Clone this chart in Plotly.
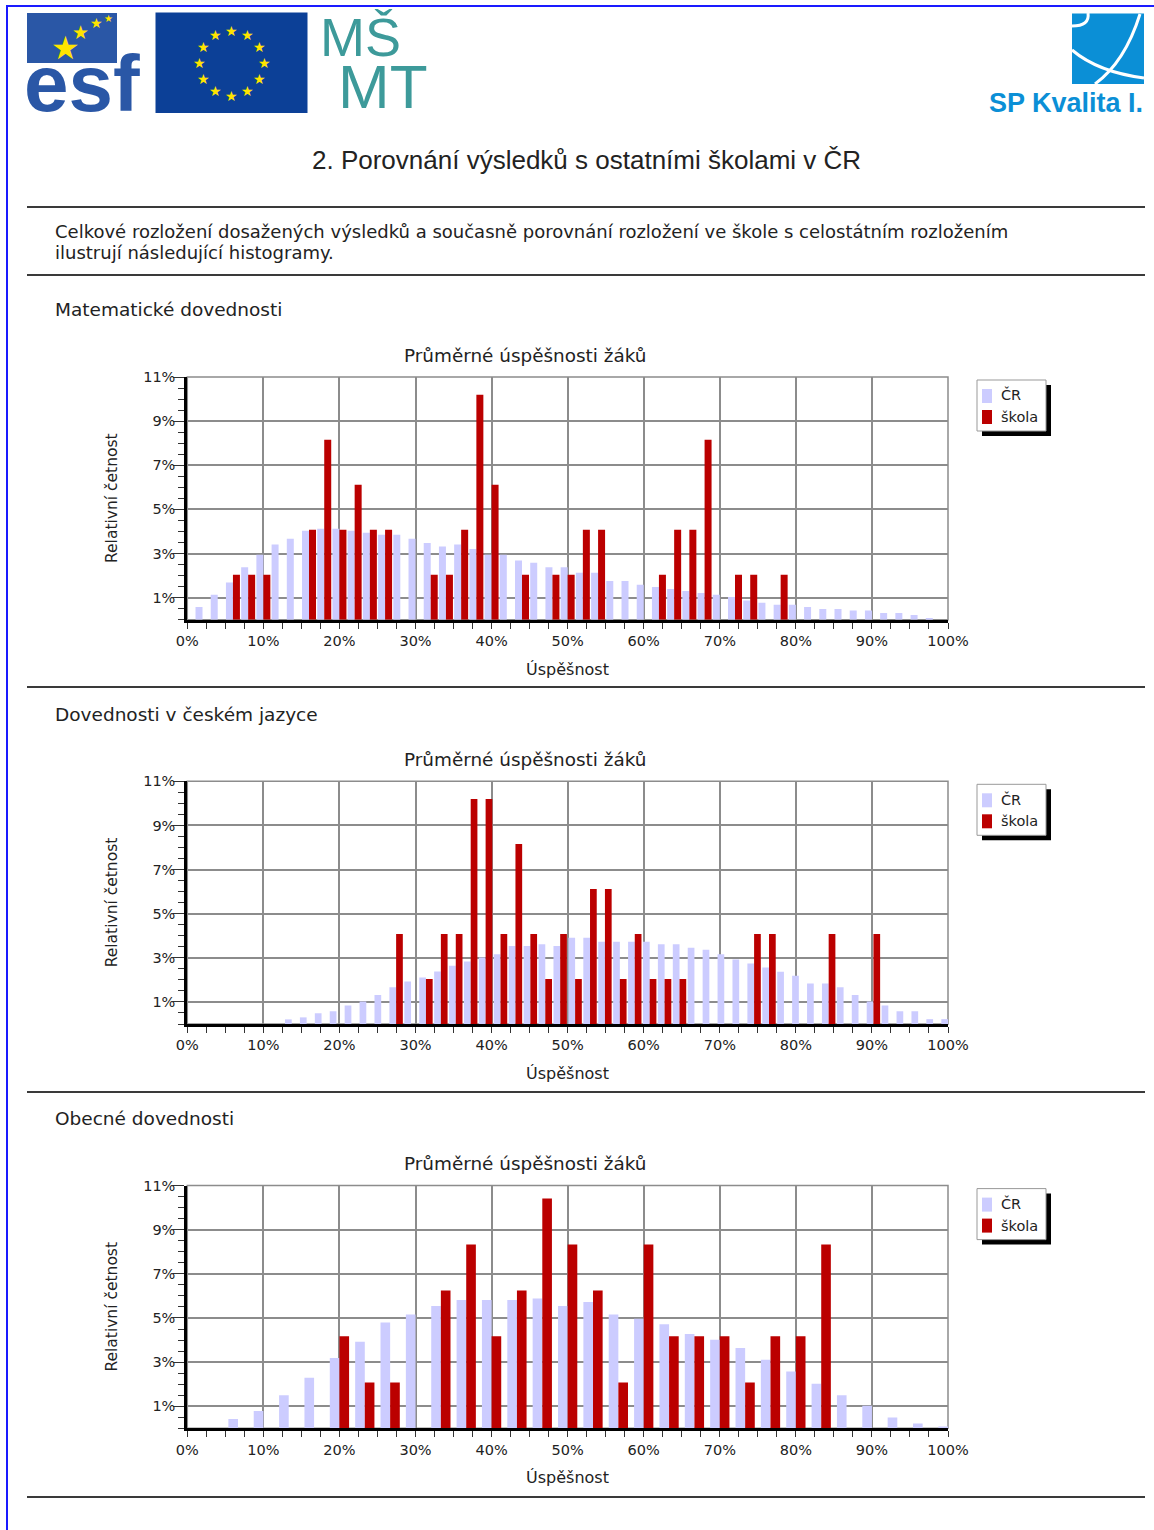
import math
import plotly.graph_objects as go

W, H = 1154, 1530

# ----------------------------
# data (relativní četnost v %)
# ----------------------------
sections = ["Matematické dovednosti", "Dovednosti v českém jazyce", "Obecné dovednosti"]
max_points = [50, 51, 30]

cr_mat = [0, 0.57, 1.13, 1.69, 2.38, 2.94, 3.41, 3.67, 4.03, 4.12, 4.12, 4.03, 3.94, 3.85, 3.85,
          3.67, 3.48, 3.32, 3.41, 3.21, 2.94, 2.94, 2.68, 2.58, 2.38, 2.38, 2.13, 2.13, 1.75, 1.75,
          1.58, 1.48, 1.39, 1.30, 1.21, 1.13, 1.03, 0.87, 0.77, 0.68, 0.68, 0.57, 0.48, 0.48, 0.42,
          0.42, 0.30, 0.30, 0.21, 0.05, 0]
skola_mat = [0, 0, 0, 2.04, 2.04, 2.04, 0, 0, 4.08, 8.16, 4.08, 6.12, 4.08, 4.08, 0,
             0, 2.04, 2.04, 4.08, 10.2, 6.12, 0, 2.04, 0, 2.04, 2.04, 4.08, 4.08, 0, 0,
             0, 2.04, 4.08, 4.08, 8.16, 0, 2.04, 2.04, 0, 2.04, 0, 0, 0, 0, 0,
             0, 0, 0, 0, 0, 0]

cr_cj = [0, 0, 0, 0, 0, 0, 0, 0.21, 0.30, 0.49, 0.58, 0.84, 1.02, 1.32, 1.66, 1.93, 2.11, 2.38,
         2.64, 2.83, 3.01, 3.16, 3.54, 3.54, 3.61, 3.54, 3.91, 3.91, 3.73, 3.73, 3.73, 3.73, 3.61,
         3.61, 3.46, 3.36, 3.16, 2.92, 2.74, 2.56, 2.37, 2.19, 1.84, 1.84, 1.66, 1.32, 1.02, 0.84,
         0.58, 0.58, 0.22, 0.22]
skola_cj = [0, 0, 0, 0, 0, 0, 0, 0, 0, 0, 0, 0, 0, 0, 4.08, 0, 2.04, 4.08,
            4.08, 10.2, 10.2, 4.08, 8.16, 4.08, 2.04, 4.08, 2.04, 6.12, 6.12, 2.04, 4.08, 2.04, 2.04,
            2.04, 0, 0, 0, 0, 4.08, 4.08, 0, 0, 0, 4.08, 0, 0, 4.08, 0,
            0, 0, 0, 0]

cr_obec = [0, 0, 0.42, 0.78, 1.50, 2.29, 3.19, 3.92, 4.79, 5.16, 5.54, 5.81, 5.81, 5.81, 5.88,
           5.54, 5.72, 5.16, 4.97, 4.72, 4.27, 4.01, 3.64, 3.11, 2.57, 2.02, 1.50, 1.02, 0.49,
           0.22, 0.05]
skola_obec = [0, 0, 0, 0, 0, 0, 4.17, 2.08, 2.08, 0, 6.25, 8.33, 4.17, 6.25, 10.42,
              8.33, 6.25, 2.08, 8.33, 4.17, 4.17, 4.17, 2.08, 4.17, 4.17, 8.33, 0, 0, 0,
              0, 0]

cr_all = [cr_mat, cr_cj, cr_obec]
skola_all = [skola_mat, skola_cj, skola_obec]
bar_frac = [0.46, 0.45, 0.38]

x_ticks = list(range(0, 101, 10))
x_ticktext = [f"{v}%" for v in x_ticks]
y_ticks = [1, 3, 5, 7, 9, 11]
y_ticktext = [f"{v}%" for v in y_ticks]

LIGHT = "#ccccff"
RED = "#bb0000"
GRID = "#8c8c8c"
TXT = "#222222"
F_SANS = "DejaVu Sans, Verdana, sans-serif"
F_ARIAL = "Liberation Sans, Arial, sans-serif"


def px(x):
    return x / W


def py(y):
    return 1 - y / H


def note(x, y, text, size, family=F_SANS, color=TXT, xanchor="left", yanchor="middle", **kw):
    return dict(x=px(x), y=py(y), xref="paper", yref="paper", text=text, showarrow=False,
                xanchor=xanchor, yanchor=yanchor,
                font=dict(family=family, size=size, color=color), **kw)


# ----------------------------
# figure
# ----------------------------
fig = go.Figure()
shapes = []
annotations = []

X0, X1 = 187.3, 948.0
CH_TOP, CH_BOT, STEP = 377.0, 619.7, 404.3

for i in range(3):
    n = max_points[i]
    uspesnost = [100 * k / n for k in range(n + 1)]
    w = bar_frac[i] * 100 / n
    xa = "x" if i == 0 else f"x{i + 1}"
    ya = "y" if i == 0 else f"y{i + 1}"
    fig.add_trace(go.Bar(x=uspesnost, y=cr_all[i], width=w, offset=-w, name="ČR",
                         marker=dict(color=LIGHT, line=dict(width=0)),
                         xaxis=xa, yaxis=ya, showlegend=False))
    fig.add_trace(go.Bar(x=uspesnost, y=skola_all[i], width=w, offset=0, name="škola",
                         marker=dict(color=RED, line=dict(width=0)),
                         xaxis=xa, yaxis=ya, showlegend=False))

    top = CH_TOP + STEP * i
    bot = CH_BOT + STEP * i
    sfx = "" if i == 0 else str(i + 1)
    fig.update_layout({
        f"xaxis{sfx}": dict(
            domain=[px(X0), px(X1)], range=[0, 100], anchor=ya, automargin=False,
            tickmode="array", tickvals=x_ticks, ticktext=x_ticktext,
            ticks="outside", ticklen=6, tickcolor="#333", tickwidth=1,
            showgrid=True, gridcolor=GRID, gridwidth=1.5,
            showline=True, linecolor="black", linewidth=3, zeroline=False,
            minor=dict(dtick=2.5, tick0=0, ticks="outside", ticklen=6,
                       tickcolor="#333", showgrid=False),
            tickfont=dict(family=F_SANS, size=14.5, color=TXT),
            fixedrange=True),
        f"yaxis{sfx}": dict(
            domain=[py(bot), py(top)], range=[0, 11], anchor=xa, automargin=False,
            tickmode="array", tickvals=y_ticks, ticktext=y_ticktext,
            ticks="outside", ticklen=11, tickcolor="#333", tickwidth=1,
            ticklabelstandoff=-5,
            showgrid=True, gridcolor=GRID, gridwidth=1.5,
            showline=True, linecolor="black", linewidth=3, zeroline=False,
            minor=dict(dtick=0.5, tick0=0, ticks="outside", ticklen=6,
                       tickcolor="#333", showgrid=False),
            tickfont=dict(family=F_SANS, size=14.5, color=TXT),
            fixedrange=True),
    })
    # grey frame top / right
    shapes.append(dict(type="rect", xref="paper", yref="paper",
                       x0=px(X0), x1=px(X1), y0=py(bot), y1=py(top),
                       line=dict(color=GRID, width=1.5), layer="below"))

    # section header, chart title, axis titles
    off = STEP * i
    annotations.append(note(53, 310 + off, sections[i], 18.5))
    annotations.append(note(525, 355 + off, "Průměrné úspěšnosti žáků", 18.4, xanchor="center"))
    annotations.append(note(112, 498 + off, "Relativní četnost", 15.5, xanchor="center",
                            textangle=-90))
    annotations.append(note(567, 669 + off, "Úspěšnost", 16, xanchor="center"))

    # legend box with shadow
    lo = off + 1
    shapes.append(dict(type="rect", xref="paper", yref="paper",
                       x0=px(982), x1=px(1051), y0=py(435 + lo), y1=py(384 + lo),
                       fillcolor="black", line=dict(width=0), layer="above"))
    shapes.append(dict(type="rect", xref="paper", yref="paper",
                       x0=px(977), x1=px(1046), y0=py(430 + lo), y1=py(379 + lo),
                       fillcolor="white", line=dict(color="#999", width=1), layer="above"))
    shapes.append(dict(type="rect", xref="paper", yref="paper",
                       x0=px(982), x1=px(992), y0=py(402 + lo), y1=py(388 + lo),
                       fillcolor=LIGHT, line=dict(width=0), layer="above"))
    shapes.append(dict(type="rect", xref="paper", yref="paper",
                       x0=px(982), x1=px(992), y0=py(423 + lo), y1=py(409 + lo),
                       fillcolor=RED, line=dict(width=0), layer="above"))
    annotations.append(note(999, 394 + lo, "ČR", 14.5))
    annotations.append(note(999, 416 + lo, "škola", 14.5))

# ----------------------------
# page: border, rules, texts
# ----------------------------
shapes.append(dict(type="rect", xref="paper", yref="paper",
                   x0=px(7), x1=px(1180), y0=py(1560), y1=py(6),
                   line=dict(color="#1a1aff", width=2), layer="below"))
for yy in [207, 275, 687, 1092, 1497]:
    shapes.append(dict(type="line", xref="paper", yref="paper",
                       x0=px(27), x1=px(1145), y0=py(yy), y1=py(yy),
                       line=dict(color="#3a3a3a", width=2), layer="below"))

annotations.append(note(586, 160, "2. Porovnání výsledků s ostatními školami v ČR", 26,
                        family=F_ARIAL, xanchor="center"))
annotations.append(note(53, 231, "Celkové rozložení dosažených výsledků a současně porovnání "
                                 "rozložení ve škole s celostátním rozložením", 18))
annotations.append(note(53, 253, "ilustrují následující histogramy.", 18))

# ----------------------------
# logos
# ----------------------------
ESF_BLUE = "#2a57a6"
EU_BLUE = "#0c4097"
STAR = "#ffe400"
TEAL = "#3d9a9a"
SP_BLUE = "#0b8fd6"

# ESF
shapes.append(dict(type="rect", xref="paper", yref="paper",
                   x0=px(27), x1=px(117), y0=py(63), y1=py(13),
                   fillcolor=ESF_BLUE, line=dict(width=0), layer="below"))
annotations.append(note(22, 130, "<b>esf</b>", 80, family=F_ARIAL, color=ESF_BLUE,
                        yanchor="bottom"))
for sx, sy, ss in [(65, 48, 32), (80, 32, 19), (96, 23, 14), (108, 19, 10)]:
    annotations.append(note(sx, sy, "★", ss, color=STAR, xanchor="center"))

# EU flag
shapes.append(dict(type="rect", xref="paper", yref="paper",
                   x0=px(155.5), x1=px(307.5), y0=py(113), y1=py(12.5),
                   fillcolor=EU_BLUE, line=dict(width=0), layer="below"))
for k in range(12):
    a = math.radians(90 - 30 * k)
    annotations.append(note(231.5 + 32.5 * math.cos(a), 63 - 32.5 * math.sin(a), "★", 14,
                            color=STAR, xanchor="center"))

# MŠMT
annotations.append(note(318, 5, "MŠ", 54, family=F_ARIAL, color=TEAL, yanchor="top"))
annotations.append(note(336, 123, "MT", 62, family=F_ARIAL, color=TEAL, yanchor="bottom"))

# SP Kvalita I.
shapes.append(dict(type="rect", xref="paper", yref="paper",
                   x0=px(1072), x1=px(1144), y0=py(84), y1=py(13.5),
                   fillcolor=SP_BLUE, line=dict(width=0), layer="below"))


def path_px(pts):
    return "M {:.5f},{:.5f} Q {:.5f},{:.5f} {:.5f},{:.5f}".format(
        px(pts[0][0]), py(pts[0][1]), px(pts[1][0]), py(pts[1][1]), px(pts[2][0]), py(pts[2][1]))


shapes.append(dict(type="path", xref="paper", yref="paper",
                   path=path_px([(1140, 14), (1125, 62), (1095, 84)]),
                   line=dict(color="white", width=3), layer="below"))
shapes.append(dict(type="path", xref="paper", yref="paper",
                   path=path_px([(1072, 50), (1098, 72), (1144, 78)]),
                   line=dict(color="white", width=3), layer="below"))
shapes.append(dict(type="path", xref="paper", yref="paper",
                   path=path_px([(1072, 26), (1090, 26), (1088, 13)]),
                   line=dict(color="white", width=3), layer="below"))
annotations.append(note(1066, 103, "<b>SP Kvalita I.</b>", 27, family=F_ARIAL,
                        color=SP_BLUE, xanchor="center"))

fig.update_layout(
    width=W, height=H, autosize=False,
    margin=dict(l=0, r=0, t=0, b=0, pad=0, autoexpand=False),
    paper_bgcolor="white", plot_bgcolor="white",
    barmode="overlay",
    showlegend=False,
    shapes=shapes,
    annotations=annotations,
)

fig.write_html(
    "out.html",
    config={"responsive": False, "displayModeBar": False},
    post_script="document.body.style.margin='0';document.body.style.overflow='hidden';",
)
